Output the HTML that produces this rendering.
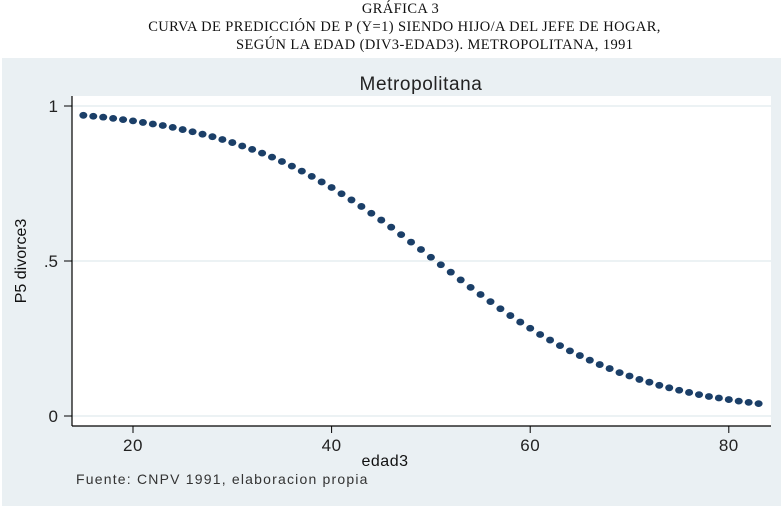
<!DOCTYPE html>
<html><head><meta charset="utf-8"><style>
body{margin:0;background:#fff;width:781px;height:506px;overflow:hidden}
.hd{position:absolute;left:0;width:781px;font-family:"Liberation Serif",serif;font-size:14.5px;letter-spacing:0.4px;color:#111;white-space:nowrap}
</style></head><body>
<div class="hd" style="top:1px;left:10px;text-align:center">GRÁFICA 3</div>
<div class="hd" style="top:19px;left:14px;text-align:center">CURVA DE PREDICCIÓN DE P (Y=1) SIENDO HIJO/A DEL JEFE DE HOGAR,</div>
<div class="hd" style="top:37px;left:236px;width:auto">SEGÚN LA EDAD (DIV3-EDAD3). METROPOLITANA, 1991</div>
<svg id="chart" width="781" height="506" style="position:absolute;left:0;top:0" font-family="Liberation Sans, sans-serif">
<rect x="2" y="58" width="779" height="448" fill="#eaf0f3"/>
<rect x="72" y="96" width="699" height="330" fill="#fff"/>
<text x="421" y="90" font-size="19" text-anchor="middle" fill="#222" letter-spacing="0.6">Metropolitana</text>
<text transform="translate(26,261) rotate(-90)" font-size="16" text-anchor="middle" fill="#111">P5 divorce3</text>
<text x="385" y="466" font-size="16" text-anchor="middle" fill="#111" letter-spacing="0.5">edad3</text>
<text x="76" y="484" font-size="14" fill="#333" letter-spacing="1.2">Fuente: CNPV 1991, elaboracion propia</text>
<g id="axes"></g><g id="marks"></g>
</svg>
<script>
const xTicks=[20,40,60,80];
const yTicks=[0,0.5,1];
const yTickLabels=["0",".5","1"];
const ages=[];for(let a=15;a<=83;a++)ages.push(a);
const probs=[0.970,0.967,0.964,0.960,0.956,0.952,0.947,0.942,0.937,0.931,0.924,0.917,0.909,0.901,0.892,0.882,0.871,0.860,0.848,0.835,0.821,0.806,0.790,0.773,0.755,0.737,0.717,0.697,0.676,0.654,0.632,0.609,0.585,0.561,0.537,0.512,0.488,0.464,0.439,0.415,0.392,0.369,0.346,0.324,0.303,0.283,0.263,0.245,0.227,0.210,0.195,0.180,0.166,0.153,0.140,0.129,0.118,0.109,0.099,0.091,0.083,0.076,0.069,0.063,0.058,0.053,0.048,0.044,0.040];
const NS="http://www.w3.org/2000/svg";
const X=v=>133+(v-20)*9.93;
const Y=v=>416-v*310;
function mk(t,at,p){const e=document.createElementNS(NS,t);for(const k in at)e.setAttribute(k,at[k]);p.appendChild(e);return e;}
const ax=document.getElementById('axes'),mg=document.getElementById('marks');
yTicks.forEach((v,i)=>{
 const g=mk('line',{x1:72,x2:771,y1:Y(v),y2:Y(v),stroke:'#e6eef0','stroke-width':1.5},ax);
 
 
 const t=mk('line',{x1:64,x2:72,y1:Y(v),y2:Y(v),stroke:'#000'},ax);
 
 
 const l=mk('text',{x:58,y:Y(v)+6,'font-size':17,'text-anchor':'end',fill:'#222'},ax);l.textContent=yTickLabels[i];
 
 
});
xTicks.forEach(v=>{
 const t=mk('line',{x1:X(v),x2:X(v),y1:426,y2:433,stroke:'#000'},ax);
 
 
 const l=mk('text',{x:X(v),y:451,'font-size':17,'text-anchor':'middle',fill:'#222','letter-spacing':0.5},ax);l.textContent=v;
 
 
});
const ya=mk('line',{x1:72,x2:72,y1:96,y2:426,stroke:'#000','stroke-width':1.2},ax);


const xa=mk('line',{x1:72,x2:771,y1:426,y2:426,stroke:'#000','stroke-width':1.2},ax);


ages.forEach((a,i)=>{
 const c=mk('ellipse',{cx:X(a),cy:Y(probs[i]),rx:4,ry:3.4,fill:'#1b3f68'},mg);
 
 
});
</script>
</body></html>
